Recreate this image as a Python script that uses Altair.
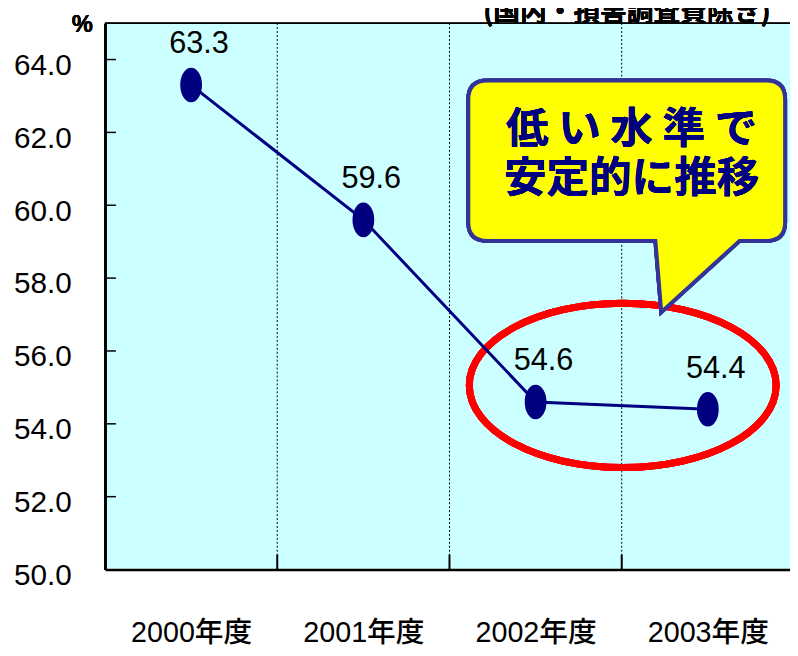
import altair as alt
import pandas as pd

categories = ["2000年度", "2001年度", "2002年度", "2003年度"]
values = [63.3, 59.6, 54.6, 54.4]
y_ticks = [50, 52, 54, 56, 58, 60, 62, 64]
callout_lines = ["低 い 水 準 で", "安定的に推移"]
unit_label = "%"
subtitle = "(国内・損害調査費除き)"

W, H = 692, 552
NUM_FONT = "Liberation Sans"
CJK_FONT = "Noto Sans CJK JP"

df = pd.DataFrame({"idx": list(range(len(categories))), "cat": categories, "val": values})
bounds = pd.DataFrame({"b": [i + 0.5 for i in range(len(categories) - 1)]})
yt = pd.DataFrame({"t": y_ticks[1:]})

label_expr = "[" + ",".join("'" + c + "'" for c in categories) + "][datum.value]"

xscale = alt.Scale(domain=[-0.5, -0.5 + W / 174.0], nice=False, zero=False)
yscale = alt.Scale(domain=[50, 65], nice=False, zero=False)

x_enc = alt.X("idx:Q", scale=xscale, axis=alt.Axis(
    values=list(range(len(categories))), labelExpr=label_expr, ticks=False, grid=False,
    domainColor="black", domainWidth=2.5, labelFont=NUM_FONT + ", " + CJK_FONT,
    labelFontSize=29, labelColor="black", labelPadding=50, title=None, labelFontWeight=500))
y_enc = alt.Y("val:Q", scale=yscale, axis=alt.Axis(
    values=y_ticks, format=".1f", ticks=False, grid=False, domainColor="black",
    domainWidth=3, labelFont=NUM_FONT, labelFontSize=30, labelColor="black",
    labelPadding=34, labelOffset=6, title=None))

grid = alt.Chart(bounds).mark_rule(color="black", strokeWidth=1, strokeDash=[2, 2]).encode(
    x=alt.X("b:Q", scale=xscale))
xticks_in = alt.Chart(bounds).mark_rule(color="black", strokeWidth=2).encode(
    x=alt.X("b:Q", scale=xscale), y=alt.value(H - 15), y2=alt.value(H))
yticks_in = alt.Chart(yt).mark_rule(color="black", strokeWidth=1.5).encode(
    y=alt.Y("t:Q", scale=yscale), x=alt.value(0), x2=alt.value(11))
top_border = alt.Chart(df).mark_rule(color="black", strokeWidth=1).encode(
    y=alt.value(0), x=alt.value(0), x2=alt.value(W))

k = 0.5523
ery = 83 / 155
ellipse_path = (f"M 1 0 C 1 {k*ery:.4f} {k:.4f} {ery:.4f} 0 {ery:.4f} "
                f"C {-k:.4f} {ery:.4f} -1 {k*ery:.4f} -1 0 "
                f"C -1 {-k*ery:.4f} {-k:.4f} {-ery:.4f} 0 {-ery:.4f} "
                f"C {k:.4f} {-ery:.4f} 1 {-k*ery:.4f} 1 0 Z")
ellipse = alt.Chart(df).mark_point(
    shape=ellipse_path, filled=False, stroke="#FF0000", strokeWidth=7, size=310 ** 2, opacity=1
).encode(x=alt.value(523), y=alt.value(366))

bubble_path = ("M -0.88 -0.509 L 0.87 -0.509 Q 0.988 -0.509 0.988 -0.39 L 0.988 0.38 "
               "Q 0.988 0.497 0.87 0.497 L 0.702 0.497 L 0.211 0.944 L 0.174 0.497 "
               "L -0.88 0.497 Q -1 0.497 -1 0.38 L -1 -0.39 Q -1 -0.509 -0.88 -0.509 Z")
bubble = alt.Chart(df).mark_point(
    shape=bubble_path, filled=True, fill="#FFFF00", stroke="#333399", strokeWidth=4,
    size=322 ** 2, opacity=1
).encode(x=alt.value(528), y=alt.value(140))

callout = alt.Chart(df).mark_text(
    font=CJK_FONT, fontSize=43, fontWeight="bold", color="#000080", lineHeight=50,
    baseline="middle", align="center"
).encode(x=alt.value(532), y=alt.value(108), text=alt.value(callout_lines))

line = alt.Chart(df).mark_line(color="#000080", strokeWidth=3).encode(x=x_enc, y=y_enc)

mry = 1.65
marker_path = (f"M 1 0 C 1 {k*mry:.4f} {k:.4f} {mry:.4f} 0 {mry:.4f} "
               f"C {-k:.4f} {mry:.4f} -1 {k*mry:.4f} -1 0 "
               f"C -1 {-k*mry:.4f} {-k:.4f} {-mry:.4f} 0 {-mry:.4f} "
               f"C {k:.4f} {-mry:.4f} 1 {-k*mry:.4f} 1 0 Z")
points = alt.Chart(df).mark_point(
    shape=marker_path, filled=True, fill="#000080", stroke="#000080", size=400, opacity=1
).encode(x=alt.X("idx:Q", scale=xscale), y=alt.Y("val:Q", scale=yscale))

labels = alt.Chart(df).mark_text(
    font=NUM_FONT, fontSize=31, color="black", dx=8, dy=-32, baseline="alphabetic"
).encode(x=alt.X("idx:Q", scale=xscale), y=alt.Y("val:Q", scale=yscale),
         text=alt.Text("val:Q", format=".1f"))

pct = alt.Chart(df).mark_text(
    font="Liberation Sans", fontSize=24, fontWeight="bold", color="black", baseline="middle"
).encode(x=alt.value(-23), y=alt.value(2), text=alt.value(unit_label))

sub = alt.Chart(df).mark_text(
    font=CJK_FONT, fontSize=27, fontWeight="bold", color="black", align="left",
    baseline="alphabetic"
).encode(x=alt.value(382), y=alt.value(-2), text=alt.value(subtitle))

chart = alt.layer(
    grid, xticks_in, yticks_in, top_border, ellipse, bubble, callout, line, points, labels, pct, sub
).properties(
    width=W, height=H,
    autosize=alt.AutoSizeParams(type="none"),
    padding={"left": 98, "top": 12, "right": 0, "bottom": 76},
    background="white",
).configure_view(stroke=None, fill="#CCFFFF")

chart.save("out.html", embed_options={"renderer": "svg", "actions": False})
